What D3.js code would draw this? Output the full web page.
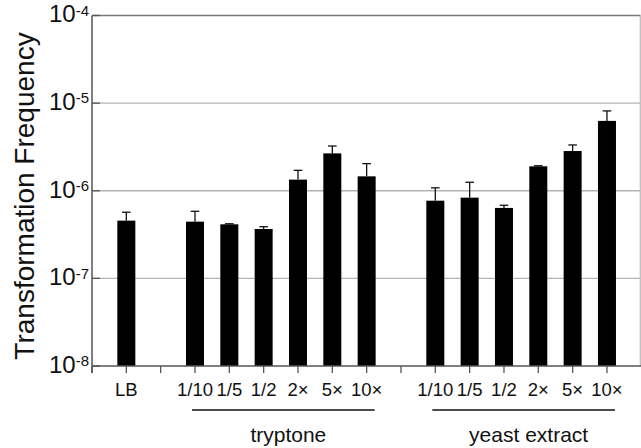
<!DOCTYPE html>
<html><head><meta charset="utf-8">
<script src="https://cdn.jsdelivr.net/npm/d3@7"></script>
<style>
html,body{margin:0;padding:0;background:#fff;}
text{font-family:"Liberation Sans",Arial,sans-serif;}
</style></head>
<body><svg id="c" width="641" height="448"></svg>
<script>
const categories = ["LB","","1/10","1/5","1/2","2×","5×","10×","","1/10","1/5","1/2","2×","5×","10×"];
const values = [4.56e-7,null,4.44e-7,4.14e-7,3.66e-7,1.34e-6,2.67e-6,1.46e-6,null,7.7e-7,8.34e-7,6.37e-7,1.9e-6,2.84e-6,6.27e-6];
const errorTops = [5.69e-7,null,5.83e-7,4.2e-7,3.89e-7,1.71e-6,3.24e-6,2.04e-6,null,1.08e-6,1.25e-6,6.83e-7,1.93e-6,3.33e-6,8.15e-6];
const groupNames = ["tryptone","yeast extract"];
const groupStart = [2,9];
const groupEnd = [7,14];
const yTickExps = [-8,-7,-6,-5,-4];
const yTitle = "Transformation Frequency";

const svg = d3.select("#c");
const L=92, R=641.3, T=15.5, B=366;
const x = d3.scaleLinear().domain([0,16]).range([L,R]);
const y = d3.scaleLog().domain([1e-8,1e-4]).range([B,T]);
const slot = i => x(i+1);

// gridlines
svg.append("g").selectAll("line").data(yTickExps.slice(1,4)).join("line")
  .attr("x1",L).attr("x2",640).attr("y1",d=>y(Math.pow(10,d))).attr("y2",d=>y(Math.pow(10,d)))
  .attr("stroke","#b4b4b4").attr("stroke-width",1.3);
// top & right frame
svg.append("line").attr("x1",L).attr("x2",640.5).attr("y1",y(1e-4)).attr("y2",y(1e-4)).attr("stroke","#777").attr("stroke-width",1.5);
svg.append("line").attr("x1",640.3).attr("x2",640.3).attr("y1",y(1e-4)).attr("y2",B).attr("stroke","#bbb").attr("stroke-width",1.2);

// y ticks (inside)
svg.append("g").selectAll("line").data(yTickExps).join("line")
  .attr("x1",L).attr("x2",L+8).attr("y1",d=>y(Math.pow(10,d))).attr("y2",d=>y(Math.pow(10,d)))
  .attr("stroke","#555").attr("stroke-width",1.3);

// y labels
const yl = svg.append("g").selectAll("text").data(yTickExps).join("text")
  .attr("x",89).attr("y",d=>y(Math.pow(10,d))+6.8).attr("text-anchor","end")
  .attr("font-size",24).attr("fill","#111");
yl.append("tspan").text("10");
yl.append("tspan").attr("font-size",15).attr("dy",-6.5).text(d=>"-"+Math.abs(d));

// y title
svg.append("text").attr("transform","translate(34,196) rotate(-90)").attr("text-anchor","middle")
  .attr("font-size",28).attr("fill","#111").text(yTitle);

// bars
const idx = d3.range(categories.length).filter(i=>values[i]!=null);
svg.append("g").selectAll("rect").data(idx).join("rect")
  .attr("x",i=>slot(i)-9).attr("width",18).attr("y",i=>y(values[i])).attr("height",i=>B-y(values[i]))
  .attr("fill","#000");
// error bars
const eb = svg.append("g").attr("stroke","#111").attr("stroke-width",1.3);
eb.selectAll(".v").data(idx).join("line").attr("class","v")
  .attr("x1",i=>slot(i)).attr("x2",i=>slot(i)).attr("y1",i=>y(values[i])).attr("y2",i=>y(errorTops[i]));
eb.selectAll(".c").data(idx).join("line").attr("class","c")
  .attr("x1",i=>slot(i)-4.3).attr("x2",i=>slot(i)+4.3).attr("y1",i=>y(errorTops[i])).attr("y2",i=>y(errorTops[i]));

// axes lines
svg.append("line").attr("x1",L).attr("x2",L).attr("y1",T).attr("y2",B+7).attr("stroke","#555").attr("stroke-width",1.5);
svg.append("line").attr("x1",L).attr("x2",641).attr("y1",B).attr("y2",B).attr("stroke","#555").attr("stroke-width",1.5);
svg.append("g").selectAll("line").data(d3.range(0,16)).join("line")
  .attr("x1",d=>x(d)).attr("x2",d=>x(d)).attr("y1",B).attr("y2",B+7)
  .attr("stroke","#555").attr("stroke-width",1.3);

// x labels
svg.append("g").selectAll("text").data(d3.range(categories.length)).join("text")
  .attr("x",i=>slot(i)).attr("y",395.5).attr("text-anchor","middle")
  .attr("font-size",18.5).attr("fill","#111").text(i=>categories[i]);

// group lines and labels
groupNames.forEach((g,k)=>{
  const a=slot(groupStart[k])-3, b=slot(groupEnd[k])+8;
  svg.append("line").attr("x1",a).attr("x2",b).attr("y1",410).attr("y2",410).attr("stroke","#111").attr("stroke-width",1.5);
  svg.append("text").attr("x",(a+b)/2+5).attr("y",442).attr("text-anchor","middle")
    .attr("font-size",21).attr("fill","#111").text(g);
});
</script></body></html>
